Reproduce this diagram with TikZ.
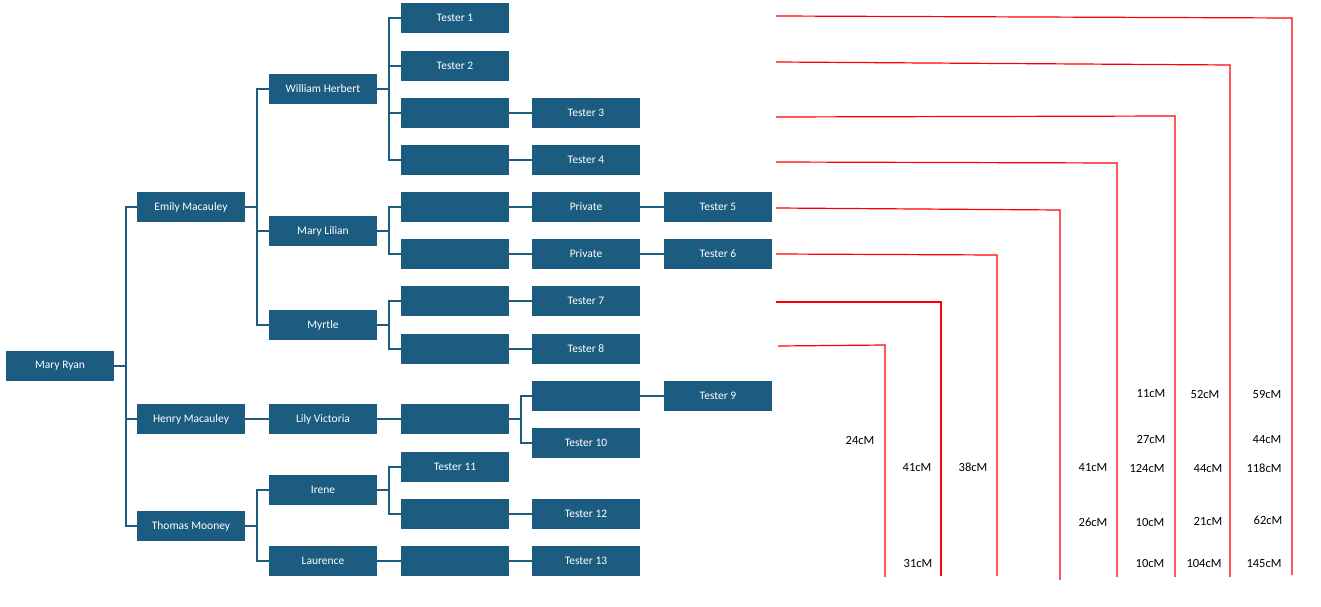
\documentclass[tikz,border=0pt]{standalone}
\usepackage{fontspec}
\setmainfont{Carlito}
\begin{document}
\begin{tikzpicture}[x=1pt,y=-1pt,
  b/.style={fill=boxc,draw=none,minimum width=108pt,minimum height=30pt,inner sep=0pt,text=white,font=\fontsize{11.5}{13}\selectfont},
  c/.style={draw=boxc,line width=1.3pt},
  r/.style={draw=red,line width=1.2pt},
  l/.style={font=\fontsize{12.5}{14}\selectfont,text=black}]
\definecolor{boxc}{HTML}{1B5C80}
\useasboundingbox (0,0) rectangle (1321,607);
% boxes
\node[b] (mr) at (60,366) {Mary Ryan};
\node[b] (em) at (191,207) {Emily Macauley};
\node[b] (hm) at (191,419) {Henry Macauley};
\node[b] (tm) at (191,526) {Thomas Mooney};
\node[b] (wh) at (323,89) {William Herbert};
\node[b] (ml) at (323,231) {Mary Lilian};
\node[b] (my) at (323,325) {Myrtle};
\node[b] (lv) at (323,419) {Lily Victoria};
\node[b] (ir) at (323,490) {Irene};
\node[b] (la) at (323,561) {Laurence};
\node[b] (t1) at (455,18) {Tester 1};
\node[b] (t2) at (455,66) {Tester 2};
\node[b] (a3) at (455,113) {};
\node[b] (a4) at (455,160) {};
\node[b] (a5) at (455,207) {};
\node[b] (a6) at (455,254) {};
\node[b] (a7) at (455,301) {};
\node[b] (a8) at (455,349) {};
\node[b] (a9) at (455,419) {};
\node[b] (t11) at (455,467) {Tester 11};
\node[b] (a12) at (455,514) {};
\node[b] (a13) at (455,561) {};
\node[b] (t3) at (586,113) {Tester 3};
\node[b] (t4) at (586,160) {Tester 4};
\node[b] (p5) at (586,207) {Private};
\node[b] (p6) at (586,254) {Private};
\node[b] (t7) at (586,301) {Tester 7};
\node[b] (t8) at (586,349) {Tester 8};
\node[b] (b9) at (586,396) {};
\node[b] (t10) at (586,443) {Tester 10};
\node[b] (t12) at (586,514) {Tester 12};
\node[b] (t13) at (586,561) {Tester 13};
\node[b] (t5) at (718,207) {Tester 5};
\node[b] (t6) at (718,254) {Tester 6};
\node[b] (t9) at (718,396) {Tester 9};
% tree connectors
\foreach \p/\bx/\kids in {mr/126/{em,hm,tm}, em/257/{wh,ml,my}, tm/257/{ir,la},
  wh/389/{t1,t2,a3,a4}, ml/389/{a5,a6}, my/389/{a7,a8}, ir/389/{t11,a12}, a9/521/{b9,t10}}{
  \draw[c] (\p.east) -- (\bx,0 |- \p.east);
  \foreach \k in \kids {\draw[c] (\k.west) -- (\bx,0 |- \k.west) -- (\bx,0 |- \p.east);}
}
\foreach \a/\b in {hm/lv, lv/a9, la/a13, a3/t3, a4/t4, a5/p5, a6/p6, a7/t7, a8/t8, a12/t12, a13/t13, p5/t5, p6/t6, b9/t9}
  \draw[c] (\a) -- (\b);
% red lines
\coordinate (s1) at (776,16); \coordinate (e1) at (1292,575);
\coordinate (s2) at (776,62); \coordinate (e2) at (1230,577);
\coordinate (s3) at (776,117); \coordinate (e3) at (1175,577);
\coordinate (s4) at (776,162); \coordinate (e4) at (1117,577);
\coordinate (s5) at (776,208); \coordinate (e5) at (1060,580);
\coordinate (s6) at (776,254); \coordinate (e6) at (997,576);
\coordinate (s7) at (776,302); \coordinate (e7) at (941,576);
\coordinate (s8) at (778,346); \coordinate (e8) at (885,577);
\draw[r] (s1) -- (1292,18) -- (e1);
\draw[r] (s2) -- (1230,65) -- (e2);
\draw[r] (s3) -- (1175,116) -- (e3);
\draw[r] (s4) -- (1117,163) -- (e4);
\draw[r] (s5) -- (1060,210) -- (e5);
\draw[r] (s6) -- (997,255) -- (e6);
\draw[r] (s7) -- (941,302) -- (e7);
\draw[r] (s8) -- (885,345) -- (e8);
% labels
\foreach \x/\y/\t [count=\i] in {860/440/24cM, 918/563/31cM, 917/468/41cM, 973/467/38cM,
  1093/468/41cM, 1093/522/26cM, 1151/394/11cM, 1151/439/27cM, 1147/468/124cM, 1150/522/10cM,
  1150/563/10cM, 1205/394/52cM, 1208/469/44cM, 1208/521/21cM, 1204/563/104cM,
  1267/394/59cM, 1267/440/44cM, 1264/468/118cM, 1268/520/62cM, 1264/564/145cM}
  \node[l] (lab\i) at (\x,\y) {\t};
\end{tikzpicture}
\end{document}
